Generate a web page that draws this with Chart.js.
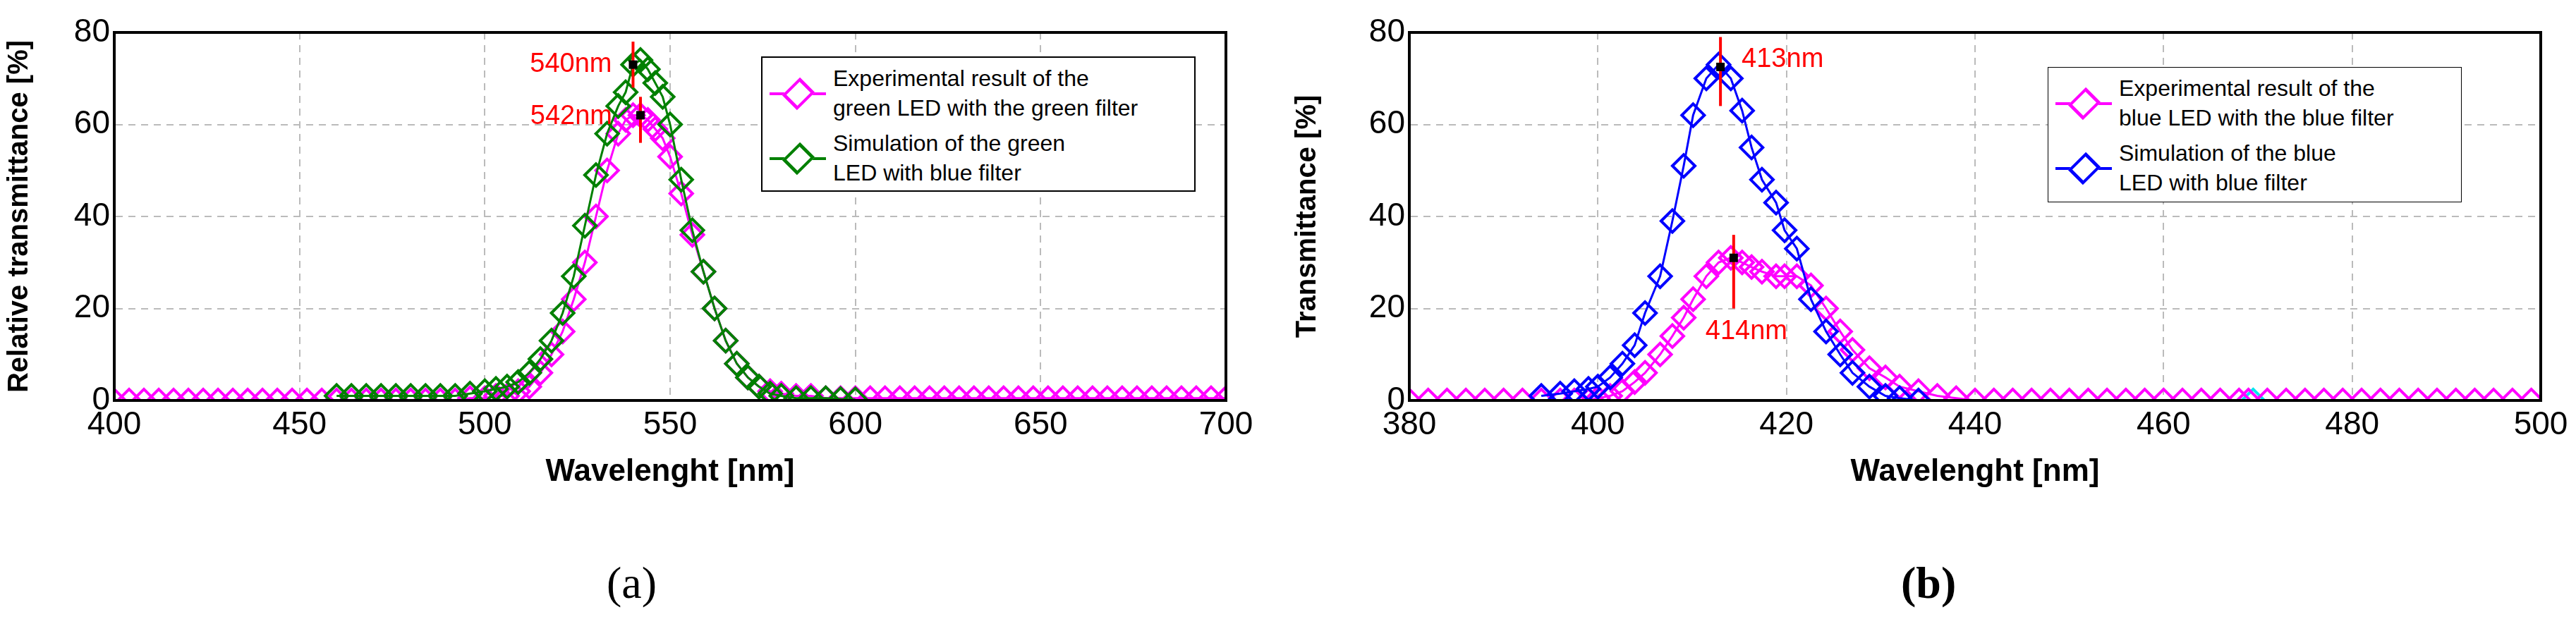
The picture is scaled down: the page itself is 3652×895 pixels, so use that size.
<!DOCTYPE html>
<html>
<head>
<meta charset="utf-8">
<script src="https://cdn.jsdelivr.net/npm/chart.js@4.4.0/dist/chart.umd.min.js"></script>
<style>
body{margin:0;background:#fff;width:3652px;height:895px;position:relative;overflow:hidden;font-family:"Liberation Sans",Arial,sans-serif;}
.wrap{position:absolute;top:0;width:1826px;height:700px;}
.legend{position:absolute;background:#fff;border:2px solid #000;font-size:32px;line-height:42px;color:#000;font-family:"Liberation Sans Narrow","Liberation Sans",sans-serif;}
.item{display:flex;align-items:center;margin:8px 0;}
.sym{width:100px;height:60px;position:relative;flex:none;}
.sym .ln{position:absolute;left:10px;right:10px;top:29px;height:4px;}
.sym .dm{position:absolute;left:36px;top:16px;width:22px;height:22px;border:4px solid;transform:rotate(45deg) scaleY(1.2);background:#fff;}
.cap{position:absolute;top:790px;font-family:"Liberation Serif","Times New Roman",serif;font-size:64px;}
</style>
</head>
<body>
<div class="wrap" style="left:0"><canvas id="c1"></canvas></div>
<div class="wrap" style="left:1826px"><canvas id="c2"></canvas></div>

<div class="legend" style="left:1079px;top:80px;width:612px;height:188px;">
  <div class="item"><div class="sym"><div class="ln" style="background:#ff00ff"></div><div class="dm" style="border-color:#ff00ff"></div></div><div>Experimental result of the<br>green LED with the green filter</div></div>
  <div class="item"><div class="sym"><div class="ln" style="background:#008000"></div><div class="dm" style="border-color:#008000"></div></div><div>Simulation of the green<br>LED with blue filter</div></div>
</div>
<div class="legend" style="left:2903px;top:95px;width:585px;height:190px;border-width:1px;">
  <div class="item"><div class="sym"><div class="ln" style="background:#ff00ff"></div><div class="dm" style="border-color:#ff00ff"></div></div><div>Experimental result of the<br>blue LED with the blue filter</div></div>
  <div class="item"><div class="sym"><div class="ln" style="background:#0000ff"></div><div class="dm" style="border-color:#0000ff"></div></div><div>Simulation of the blue<br>LED with blue filter</div></div>
</div>
<div class="cap" style="left:860px">(a)</div>
<div class="cap" style="left:2695px;font-weight:bold">(b)</div>

<script>
// (a) green LED
var waveA=[400,404,408,412,416,420,424,428,432,436,440,444,448,452,456,460,464,468,472,476,480,484,488,492,496,500,503,506,509,512,515,518,521,524,527,530,533,536,538,540,542,544,546,548,550,553,556,559,562,565,568,571,574,577,580,584,588,592,596,600,604,608,612,616,620,624,628,632,636,640,644,648,652,656,660,664,668,672,676,680,684,688,692,696,700];
var expA=[0,0,0,0,0,0,0,0,0,0,0,0,0,0,0,0,0,0,0,0,0,0,0,0,0.5,0.5,1,1,2,3,6,10,15,22,30,40,50,58,61,62,62,61,59,57,53,45,36,28,20,13,8,5,3,2,1.5,1,1,0.5,0.5,0.5,0.5,0.5,0.5,0.5,0.5,0.5,0.5,0.5,0.5,0.5,0.5,0.5,0.5,0.5,0.5,0.5,0.5,0.5,0.5,0.5,0.5,0.5,0.5,0.5,0.5];
var simA=[null,null,null,null,null,null,null,null,null,null,null,null,null,null,null,1,1,1,1,1,1,1,1,1,1.5,2,2.5,3,4,6,9,13,19,27,38,49,58,64,67,73,74,72,69,66,60,48,37,28,20,13,8,5,3,1.5,1,0.5,0.5,0.5,0.3,0.2,null,null,null,null,null,null,null,null,null,null,null,null,null,null,null,null,null,null,null,null,null,null,null,null,null];
var peaksA=[{x:540,y:73,y1:68,y2:78,label:'540nm',dx:-30,dy:0,align:'right'},{x:542,y:62,y1:56,y2:66,label:'542nm',dx:-40,dy:2,align:'right'}];

// (b) blue LED
var waveB=[380,382,384,386,388,390,392,394,396,397.5,399,400,401.3,402.6,403.9,405,406.6,407.9,409.1,410.1,411.5,412.8,414.1,415.3,416.3,417.4,418.9,419.8,421.1,422.6,424.2,425.7,427,428.8,430.5,432,434,436,438,440,442,444,446,448,450,452,454,456,458,460,462,464,466,468,469,471,473,475,477,479,481,483,485,487,489,491,493,495,497,499];
var expB=[0,0,0,0,0,0,0,0,0,0,0,0.5,1,2,4,6,10,14,18,22,27,30,31,30,29,28,27,27,27,25,20,15,11,7,5,3,2,1,0.5,0,0,0,0,0,0,0,0,0,0,0,0,0,0,0,0,0,0,0,0,0,0,0,0,0,0,0,0,0,0,0];
var simB=[null,null,null,null,null,null,null,1,1.5,2,2.5,3,5,8,12,19,27,39,51,62,70,73,70,63,55,48,43,37,33,22,15,10,6,3,1,0.5,0,null,null,null,null,null,null,null,null,null,null,null,null,null,null,null,null,null,null,null,null,null,null,null,null,null,null,null,null,null,null,null,null,null];
var cyanB=[{x:469.5,y:0}];
var peaksB=[{x:413,y:72.5,y1:64,y2:79,label:'413nm',dx:30,dy:-10,align:'left'},{x:414.4,y:31,y1:20,y2:36,label:'414nm',dx:-40,dy:0,yl:15,align:'left'}];

var peakPlugin={
  id:'peaks',
  afterDatasetsDraw:function(chart,args,opts){
    var ctx=chart.ctx, xs=chart.scales.x, ys=chart.scales.y;
    ctx.save();
    opts.list.forEach(function(p){
      var px=xs.getPixelForValue(p.x);
      ctx.strokeStyle='#ff0000';ctx.lineWidth=4;
      ctx.beginPath();ctx.moveTo(px,ys.getPixelForValue(p.y1));ctx.lineTo(px,ys.getPixelForValue(p.y2));ctx.stroke();
      ctx.fillStyle='#000';
      var py=ys.getPixelForValue(p.y);
      ctx.fillRect(px-6,py-6,12,12);
      ctx.fillStyle='#ff0000';ctx.font='38px "Liberation Sans Narrow","Liberation Sans",sans-serif';
      ctx.textAlign=p.align;ctx.textBaseline='middle';
      var ty=p.yl!==undefined?ys.getPixelForValue(p.yl):py+p.dy;
      ctx.fillText(p.label,px+p.dx,ty);
    });
    ctx.restore();
  }
};

function diamond(data,color,extra){
  return Object.assign({data:data,borderColor:color,pointBorderColor:color,pointBackgroundColor:'rgba(0,0,0,0)',
    pointStyle:'rectRot',pointRadius:16,pointBorderWidth:4,borderWidth:3,tension:0,spanGaps:false},extra||{});
}

function makeChart(id,waves,sets,xmin,xmax,xstep,ytitle,peaks,pad){
  var ds=sets.map(function(s){
    return diamond(s.vals.map(function(v,i){return {x:waves[i],y:v};}),s.color,s.extra);
  });
  return new Chart(document.getElementById(id),{
    type:'line',
    data:{datasets:ds},
    options:{
      responsive:false,animation:false,
      layout:{padding:{top:46,right:pad,left:0,bottom:0}},
      plugins:{legend:{display:false},tooltip:{enabled:false},peaks:{list:peaks}},
      scales:{
        x:{type:'linear',min:xmin,max:xmax,
          ticks:{stepSize:xstep,color:'#000',font:{size:46,family:'"Liberation Sans Narrow","Liberation Sans",sans-serif'},padding:8},
          grid:{color:'#bbb',lineWidth:2,tickLength:0},
          border:{color:'#000',width:4,dash:[10,8]},
          title:{display:true,text:'Wavelenght [nm]',color:'#000',font:{size:44,weight:'bold',family:'"Liberation Sans Narrow","Liberation Sans",sans-serif'},padding:{top:6}},
          afterFit:function(s){s.height=132;}},
        y:{min:0,max:80,
          ticks:{stepSize:20,color:'#000',font:{size:46,family:'"Liberation Sans Narrow","Liberation Sans",sans-serif'},padding:6},
          grid:{color:'#bbb',lineWidth:2,tickLength:0},
          border:{color:'#000',width:4,dash:[10,8]},
          title:{display:true,text:ytitle,color:'#000',font:{size:40,weight:'bold'},padding:{bottom:4}},
          afterFit:function(s){s.width=pad===88?162:172;}}
      }
    },
    plugins:[peakPlugin,{id:'frame',afterDraw:function(c){var a=c.chartArea,x=c.ctx;x.save();x.strokeStyle='#000';x.lineWidth=4;x.strokeRect(a.left,a.top,a.right-a.left,a.bottom-a.top);x.restore();}}]
  });
}

['c1','c2'].forEach(function(id){var c=document.getElementById(id);c.width=1826;c.height=700;});

makeChart('c1',waveA,[{vals:simA,color:'#008000'},{vals:expA,color:'#ff00ff'}],400,700,50,'Relative transmittance [%]',peaksA,88);
var ch2=makeChart('c2',waveB,[{vals:simB,color:'#0000ff'},{vals:expB,color:'#ff00ff'}],380,500,20,'Transmittance [%]',peaksB,50);
ch2.data.datasets.push(diamond(cyanB,'#00e5ee',{showLine:false}));
ch2.update();
</script>
</body>
</html>
